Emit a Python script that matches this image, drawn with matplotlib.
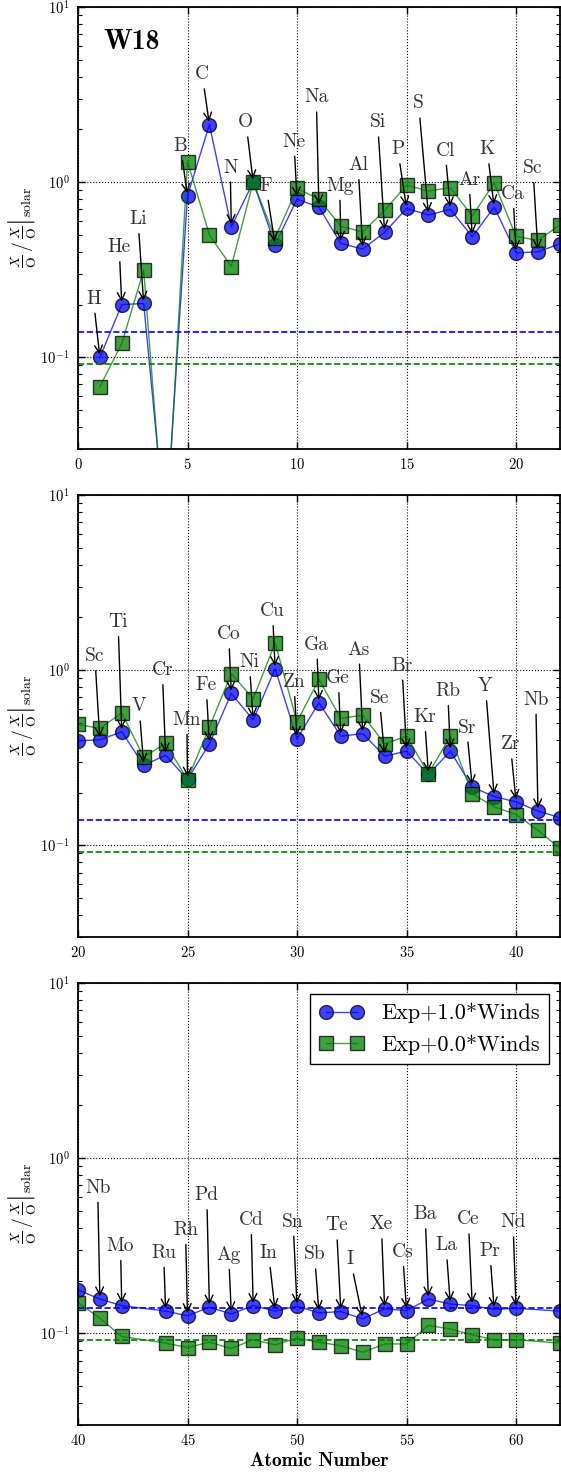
import numpy as np
import matplotlib
matplotlib.use("Agg")
import matplotlib.pyplot as plt
from matplotlib.ticker import LogLocator, MultipleLocator, NullFormatter

# ============================================================
# DATA
# ============================================================

Z = [1, 2, 3, 4, 5, 6, 7, 8, 9, 10,
     11, 12, 13, 14, 15, 16, 17, 18, 19, 20,
     21, 22, 23, 24, 25, 26, 27, 28, 29, 30,
     31, 32, 33, 34, 35, 36, 37, 38, 39, 40,
     41, 42, 44, 45, 46, 47, 48, 49, 50, 51,
     52, 53, 54, 55, 56, 57, 58, 59, 60, 62]

symbols = ["H", "He", "Li", "Be", "B", "C", "N", "O", "F", "Ne",
           "Na", "Mg", "Al", "Si", "P", "S", "Cl", "Ar", "K", "Ca",
           "Sc", "Ti", "V", "Cr", "Mn", "Fe", "Co", "Ni", "Cu", "Zn",
           "Ga", "Ge", "As", "Se", "Br", "Kr", "Rb", "Sr", "Y", "Zr",
           "Nb", "Mo", "Ru", "Rh", "Pd", "Ag", "Cd", "In", "Sn", "Sb",
           "Te", "I", "Xe", "Cs", "Ba", "La", "Ce", "Pr", "Nd", "Sm"]

# Exp+1.0*Winds
winds_1 = [0.100, 0.200, 0.203, 0.010, 0.835, 2.13, 0.556, 1.00, 0.44, 0.80,
           0.72, 0.447, 0.415, 0.517, 0.708, 0.649, 0.70, 0.488, 0.72, 0.395,
           0.40, 0.445, 0.286, 0.327, 0.238, 0.38, 0.736, 0.519, 1.02, 0.406,
           0.652, 0.42, 0.434, 0.323, 0.345, 0.254, 0.345, 0.215, 0.19, 0.177,
           0.157, 0.144, 0.134, 0.126, 0.141, 0.129, 0.144, 0.134, 0.143, 0.131,
           0.133, 0.121, 0.138, 0.135, 0.157, 0.147, 0.144, 0.137, 0.139, 0.134]

# Exp+0.0*Winds
winds_0 = [0.068, 0.12, 0.315, 0.008, 1.31, 0.50, 0.33, 1.00, 0.48, 0.92,
           0.80, 0.56, 0.52, 0.69, 0.96, 0.89, 0.93, 0.64, 0.99, 0.49,
           0.465, 0.57, 0.319, 0.382, 0.237, 0.473, 0.955, 0.687, 1.43, 0.507,
           0.885, 0.53, 0.554, 0.38, 0.42, 0.257, 0.42, 0.197, 0.166, 0.150,
           0.122, 0.096, 0.088, 0.083, 0.089, 0.082, 0.092, 0.086, 0.094, 0.089,
           0.085, 0.078, 0.087, 0.087, 0.111, 0.106, 0.098, 0.092, 0.092, 0.088]

# reference levels (dashed lines)
level_1 = 0.14
level_0 = 0.092

# where the element names sit (text centre), None = no label
label_x = [0.70, 1.88, 2.74, None, 4.68, 5.67, 6.95, 7.67, 8.58, 9.86,
           10.88, 11.95, 12.79, 13.68, 14.6, 15.55, 16.76, 17.85, 18.68, 19.86,
           20.77, 21.83, 22.79, 23.85, 24.97, 25.85, 26.88, 27.82, 28.88, 29.86,
           30.9, 31.88, 32.82, 33.76, 34.79, 35.82, 36.88, 37.74, 38.6, 39.74,
           40.9, 41.94, 43.91, 44.91, 45.88, 46.88, 47.9, 48.7, 49.82, 50.8,
           51.8, 52.44, 53.85, 54.82, 55.85, 56.8, 57.82, 58.8, 59.86, None]

label_y = [0.216, 0.425, 0.615, None, 1.61, 4.12, 1.21, 2.19, 0.953, 1.70,
           3.04, 0.953, 1.25, 2.19, 1.54, 2.81, 1.51, 1.03, 1.54, 0.855,
           1.20, 1.88, 0.62, 1.0, 0.52, 0.82, 1.6, 1.11, 2.17, 0.855,
           1.40, 0.90, 1.31, 0.695, 1.06, 0.54, 0.76, 0.47, 0.81, 0.377,
           0.677, 0.315, 0.288, 0.389, 0.614, 0.28, 0.443, 0.288, 0.434, 0.282,
           0.413, 0.264, 0.419, 0.291, 0.478, 0.318, 0.447, 0.295, 0.43, None]

panel_ranges = [(0, 22), (20, 42), (40, 62)]


# ============================================================
# STYLE
# ============================================================

plt.rcParams['font.family'] = ['cmr10']
plt.rcParams['mathtext.fontset'] = 'cm'
plt.rcParams['axes.formatter.use_mathtext'] = True
plt.rcParams['axes.unicode_minus'] = True

fig = plt.figure(figsize=(5.61, 14.73), dpi=100)

left = 0.139
width = 0.859
height = 0.3001
bottoms = [0.6952, 0.3639, 0.0326]

ylabel = r'$\frac{X}{\mathrm{O}}\,/\,\left.\frac{X}{\mathrm{O}}\right|_{\mathrm{solar}}$'


# ============================================================
# PANELS
# ============================================================

for k, (xmin, xmax) in enumerate(panel_ranges):

    ax = fig.add_axes([left, bottoms[k], width, height])

    ax.plot(
        Z, winds_1, 'o-',
        color='b', mec='k', ms=10, lw=1, alpha=0.75,
        label='Exp+1.0*Winds'
    )

    ax.plot(
        Z, winds_0, 's-',
        color='g', mec='k', ms=10, lw=1, alpha=0.75,
        label='Exp+0.0*Winds'
    )

    ax.axhline(level_1, color='b', ls='--', lw=1.2)
    ax.axhline(level_0, color='g', ls='--', lw=1.2)

    for i in range(len(Z)):

        if label_y[i] is None:
            continue

        if not (xmin < Z[i] < xmax):
            continue

        ax.annotate(
            symbols[i],
            xy=(Z[i], winds_1[i]),
            xytext=(label_x[i], label_y[i]),
            ha='center', va='center',
            fontsize=14, color='0.2',
            arrowprops=dict(arrowstyle='->', color='k', lw=1,
                            shrinkA=2, shrinkB=2)
        )

    ax.set_yscale('log')
    ax.set_ylim(0.03, 10)
    ax.set_xlim(xmin, xmax)

    ax.xaxis.set_major_locator(MultipleLocator(5))
    ax.yaxis.set_major_locator(LogLocator(base=10))
    ax.yaxis.set_minor_locator(LogLocator(base=10, subs=np.arange(2, 10)))
    ax.yaxis.set_minor_formatter(NullFormatter())

    ax.grid(True, which='major', color='k', ls=':', lw=0.8)

    ax.tick_params(which='both', direction='in', top=True, right=True,
                   labelsize=10.5, pad=6)
    ax.tick_params(which='major', length=5, width=1)
    ax.tick_params(which='minor', length=3, width=0.8)

    for spine in ax.spines.values():
        spine.set_linewidth(1.3)

    # y label placed by its centre
    ax.text(-0.116, 0.5, ylabel, transform=ax.transAxes,
            rotation=90, ha='center', va='center', fontsize=14)

    if k == 0:
        ax.text(0.052, 0.92, 'W18', transform=ax.transAxes,
                fontsize=20, family='cmb10', va='center')

    if k == 2:
        ax.set_xlabel('Atomic Number', fontsize=14, family='cmb10',
                      labelpad=3)
        ax.legend(loc='upper right', numpoints=2, fancybox=False,
                  edgecolor='k', framealpha=1,
                  prop={'family': 'cmr10', 'size': 16})

fig.savefig('out.png', dpi=100)
